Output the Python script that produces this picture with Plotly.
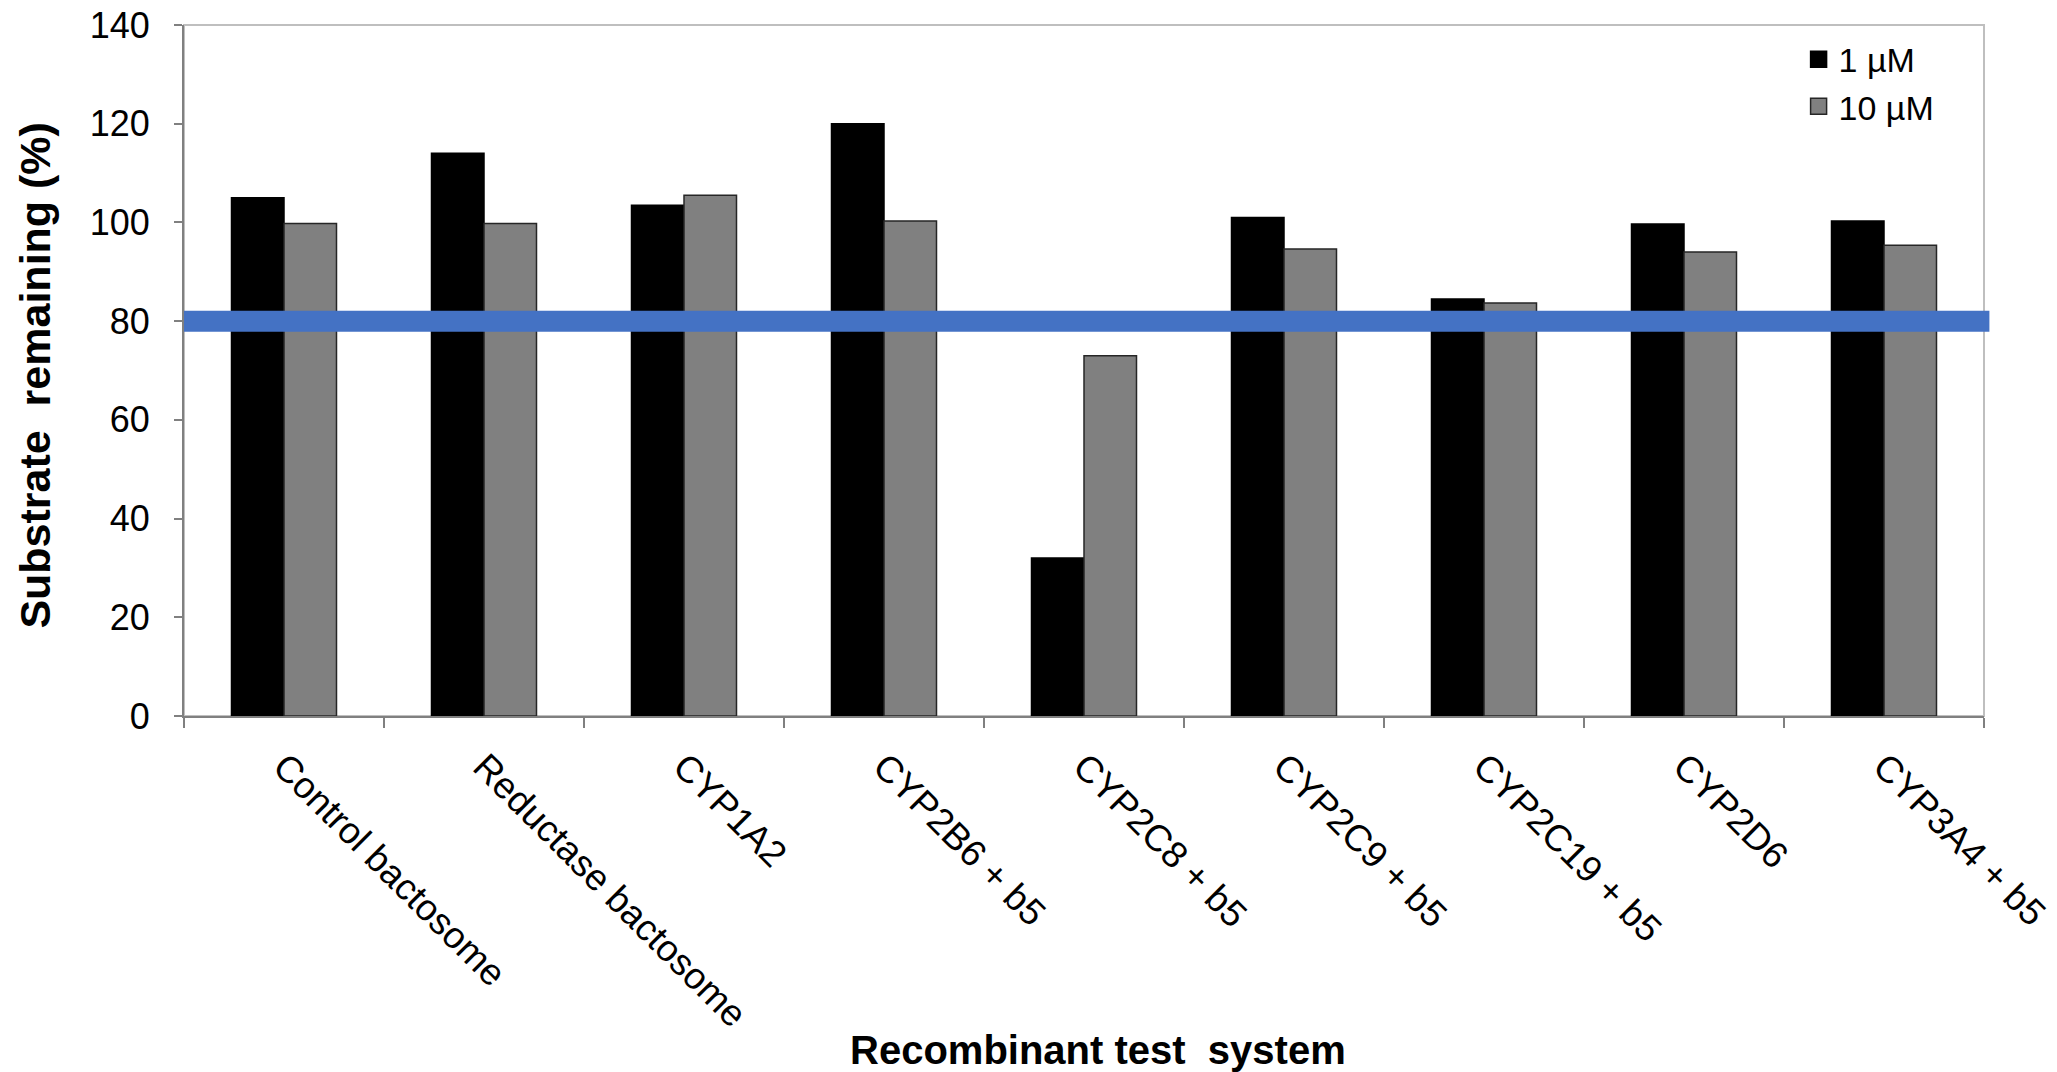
import plotly.graph_objects as go

categories = ["Control bactosome", "Reductase bactosome", "CYP1A2", "CYP2B6 + b5",
              "CYP2C8 + b5", "CYP2C9 + b5", "CYP2C19 + b5", "CYP2D6", "CYP3A4 + b5"]
series_1uM = [105, 114, 103.5, 120, 32, 101, 84.5, 99.7, 100.3]
series_10uM = [99.8, 99.8, 105.5, 100.3, 73, 94.6, 83.7, 94, 95.4]
series_names = ["1 µM", "10 µM"]
y_ticks = [0, 20, 40, 60, 80, 100, 120, 140]
threshold = 80

FONT = "Liberation Sans, Arial, sans-serif"
colors = ["#000000", "#808080"]
edges = ["#000000", "#262626"]

fig = go.Figure()
for vals, name, c, e in zip([series_1uM, series_10uM], series_names, colors, edges):
    fig.add_trace(go.Bar(x=categories, y=vals, name=name, showlegend=False,
                         marker=dict(color=c, line=dict(color=e, width=1.5))))
# legend proxies with larger square swatches
for name, c, e in zip(series_names, colors, edges):
    fig.add_trace(go.Scatter(x=[None], y=[None], mode="markers", name=name,
                             marker=dict(symbol="square", size=16, color=c,
                                         line=dict(color=e, width=1.5))))

# plot-area border (top/right)
fig.add_shape(type="rect", xref="paper", yref="paper", x0=0, x1=1, y0=0, y1=1,
              line=dict(color="#bfbfbf", width=2), layer="below")
# 80% threshold line
fig.add_shape(type="line", xref="paper", yref="y", x0=0, x1=1.003, y0=threshold, y1=threshold,
              line=dict(color="#4472C4", width=21), layer="above")

fig.update_layout(
    width=2057, height=1072,
    margin=dict(l=184, r=73, t=25, b=356, autoexpand=False),
    plot_bgcolor="white", paper_bgcolor="white",
    barmode="group", bargap=0.475, bargroupgap=0,
    font=dict(family=FONT, size=34, color="#000000"),
    showlegend=True,
    legend=dict(x=0.897, y=0.992, xanchor="left", yanchor="top",
                font=dict(family=FONT, size=34, color="#000000"),
                bgcolor="rgba(0,0,0,0)", itemwidth=30, tracegroupgap=0),
    xaxis=dict(type="category", tickangle=45, tickson="boundaries", automargin=False,
               ticks="outside", ticklen=10, tickwidth=2, tickcolor="#808080",
               showline=True, linecolor="#808080", linewidth=2, ticklabelstandoff=12,
               showgrid=False, tickfont=dict(family=FONT, size=37)),
    yaxis=dict(range=[0, 140], tickvals=y_ticks, ticks="outside", ticklen=8, automargin=False,
               tickwidth=2, tickcolor="#808080", showline=True, linecolor="#808080",
               linewidth=2, showgrid=False, zeroline=False, ticklabelstandoff=17,
               ticklabeloverflow="allow",
               tickfont=dict(family=FONT, size=36)),
    annotations=[
        dict(text="<b>Substrate  remaining (%)</b>", xref="paper", yref="paper",
             x=-0.0828, y=0.494, textangle=-90, showarrow=False,
             xanchor="center", yanchor="middle",
             font=dict(family=FONT, size=43, color="#000000")),
        dict(text="<b>Recombinant test  system</b>", xref="paper", yref="paper",
             x=0.508, y=-0.483, showarrow=False, xanchor="center", yanchor="middle",
             font=dict(family=FONT, size=40, color="#000000")),
    ],
)

fig.write_html("out.html", config={"displayModeBar": False},
               post_script="document.body.style.margin='0';document.body.style.overflow='hidden';")
